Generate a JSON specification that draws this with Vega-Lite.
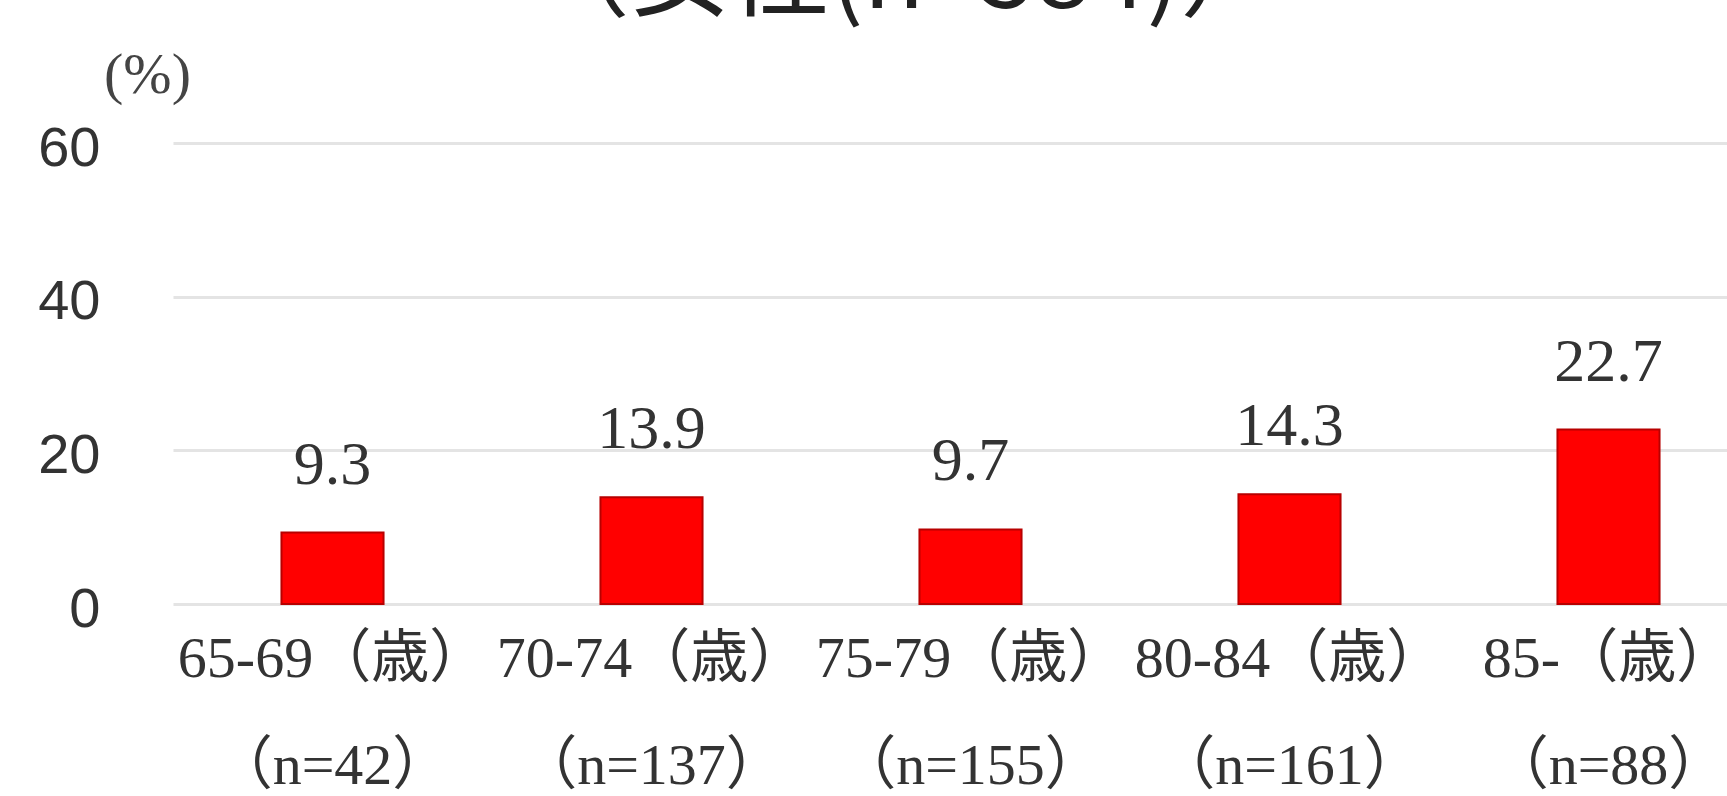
{
  "$schema": "https://vega.github.io/schema/vega-lite/v6.json",
  "autosize": {"type": "none"},
  "width": 1554,
  "height": 461,
  "padding": {"left": 173, "top": 143, "right": 0, "bottom": 192},
  "background": "white",
  "title": {
    "text": "（女性(n=584)）",
    "font": "Noto Sans CJK JP",
    "fontSize": 100,
    "fontWeight": "normal",
    "color": "#222222",
    "anchor": "middle",
    "baseline": "alphabetic",
    "offset": -62,
    "dx": -45
  },
  "data": {
    "values": [
      {"age": "65-69（歳）|（n=42）", "pct": 9.3},
      {"age": "70-74（歳）|（n=137）", "pct": 13.9},
      {"age": "75-79（歳）|（n=155）", "pct": 9.7},
      {"age": "80-84（歳）|（n=161）", "pct": 14.3},
      {"age": "85-（歳）|（n=88）", "pct": 22.7}
    ]
  },
  "config": {
    "view": {"stroke": null},
    "axis": {"domain": false, "ticks": false}
  },
  "encoding": {
    "x": {
      "field": "age",
      "type": "nominal",
      "sort": null,
      "scale": {"range": [0, 1595], "paddingInner": 0.68, "paddingOuter": 0.34},
      "axis": {
        "title": null,
        "labelAngle": 0,
        "labelExpr": "split(datum.label, '|')",
        "labelFont": "Liberation Serif, Noto Sans CJK JP",
        "labelFontSize": 58,
        "labelLimit": 0,
        "labelColor": "#333333",
        "labelBaseline": "alphabetic",
        "labelPadding": 72,
        "labelLineHeight": 107,
        "labelOverlap": false,
        "labelBound": false,
        "labelFlush": false,
        "grid": false
      }
    },
    "y": {
      "field": "pct",
      "type": "quantitative",
      "scale": {"domain": [0, 60]},
      "axis": {
        "values": [0, 20, 40, 60],
        "title": "(%)",
        "titleAngle": 0,
        "titleX": -26,
        "titleY": -68,
        "titleAlign": "center",
        "titleBaseline": "middle",
        "titleFont": "Liberation Serif",
        "titleFontSize": 58,
        "titleFontWeight": "normal",
        "titleColor": "#444444",
        "labelFont": "Liberation Sans",
        "labelFontSize": 56,
        "labelColor": "#333333",
        "labelPadding": 73,
        "labelOffset": 5,
        "grid": true,
        "gridColor": "#e4e4e4",
        "gridWidth": 3
      }
    }
  },
  "layer": [
    {
      "mark": {"type": "bar", "color": "#ff0000", "stroke": "#b80000", "strokeWidth": 2}
    },
    {
      "mark": {
        "type": "text",
        "font": "Liberation Serif",
        "fontSize": 62,
        "color": "#333333",
        "baseline": "middle",
        "dy": -68
      },
      "encoding": {"text": {"field": "pct", "type": "quantitative", "format": ".1f"}}
    }
  ]
}
